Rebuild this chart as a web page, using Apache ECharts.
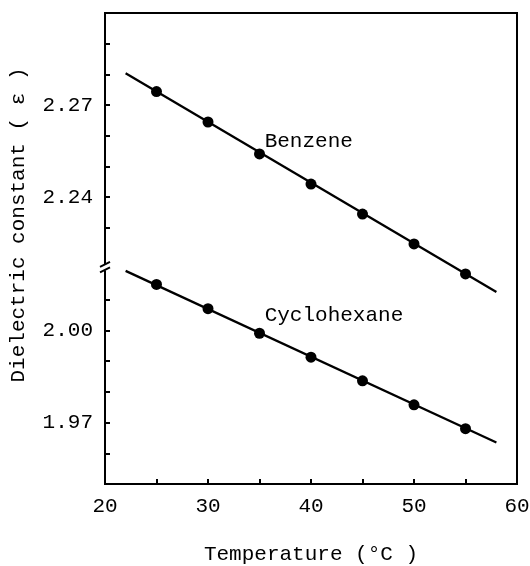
<!DOCTYPE html>
<html>
<head>
<meta charset="utf-8">
<script src="https://cdn.jsdelivr.net/npm/echarts@6/dist/echarts.min.js"></script>
<style>
  html, body { margin: 0; padding: 0; background: #fff; }
  #chart { width: 530px; height: 566px; }
</style>
</head>
<body>
<div id="chart"></div>
<script>
// data
const temps = [25, 30, 35, 40, 45, 50, 55]
const benzene = [2.2744, 2.2645, 2.2541, 2.2443, 2.2345, 2.2248, 2.2150]
const cyclohexane = [2.0150, 2.0071, 1.9991, 1.9913, 1.9836, 1.9758, 1.9680]
// fitted straight lines, drawn from 22 to 58 °C
const fitTemps = [22, 58]
const benzeneFit = [2.2804, 2.2091]
const cyclohexaneFit = [2.0194, 1.9635]

// ticks and labels
const xTicks = [25, 30, 35, 40, 45, 50, 55]
const xLabels = [20, 30, 40, 50, 60]
const upperTicks = [2.23, 2.24, 2.25, 2.26, 2.27, 2.28, 2.29]
const upperLabels = [2.24, 2.27]
const lowerTicks = [1.96, 1.97, 1.98, 1.99, 2.00, 2.01]
const lowerLabels = [1.97, 2.00]
const breakValue = 2.02

const font = 'Liberation Mono'
const fontSize = 21
const black = '#000'

const pairs = (xs, ys) => xs.map((x, i) => [x, ys[i]])

const gridBox = { left: 105, top: 13, width: 412, height: 471 }

const yCommon = {
  type: 'value',
  axisLine: { show: true, lineStyle: { color: black, width: 2 } },
  axisTick: { show: true, inside: true, length: 5, lineStyle: { color: black, width: 2 } },
  axisLabel: {
    color: black, fontFamily: font, fontSize: fontSize, margin: 12,
    formatter: (v) => v.toFixed(2),
  },
  splitLine: { show: false },
}

const labelStyle = { show: true, position: 'right', distance: 0, color: black, fontFamily: font, fontSize: fontSize }

const options = {
  animation: false,
  grid: [
    { ...gridBox, outerBoundsMode: 'none' },
    { ...gridBox, outerBoundsMode: 'none', show: true, borderColor: black, borderWidth: 2, backgroundColor: 'transparent' },
  ],
  xAxis: [
    { type: 'value', gridIndex: 0, min: 20, max: 60, show: false },
    {
      type: 'value',
      gridIndex: 1,
      min: 20,
      max: 60,
      name: 'Temperature (°C )',
      nameLocation: 'middle',
      nameGap: 60,
      nameTextStyle: { color: black, fontFamily: font, fontSize: fontSize },
      axisLine: { lineStyle: { color: black, width: 2 } },
      axisTick: { inside: true, length: 5, customValues: xTicks, lineStyle: { color: black, width: 2 } },
      axisLabel: { color: black, fontFamily: font, fontSize: fontSize, margin: 12, customValues: xLabels },
      splitLine: { show: false },
    },
  ],
  yAxis: [
    {
      ...yCommon,
      gridIndex: 0,
      min: 2.1466,
      max: 2.30,
      axisTick: { ...yCommon.axisTick, customValues: upperTicks },
      axisLabel: { ...yCommon.axisLabel, customValues: upperLabels },
    },
    {
      ...yCommon,
      gridIndex: 1,
      min: 1.95,
      max: 2.1034,
      axisTick: { ...yCommon.axisTick, customValues: lowerTicks },
      axisLabel: { ...yCommon.axisLabel, customValues: lowerLabels },
    },
  ],
  series: [
    {
      name: 'Benzene fit',
      type: 'line',
      xAxisIndex: 0,
      yAxisIndex: 0,
      data: pairs(fitTemps, benzeneFit),
      showSymbol: false,
      lineStyle: { color: black, width: 2.3 },
      markPoint: {
        symbol: 'circle',
        symbolSize: 0,
        data: [{ coord: [35.5, 2.2583] }],
        label: { ...labelStyle, formatter: 'Benzene' },
      },
    },
    {
      name: 'Benzene',
      type: 'scatter',
      xAxisIndex: 0,
      yAxisIndex: 0,
      data: pairs(temps, benzene),
      symbolSize: 11,
      itemStyle: { color: black, opacity: 1 },
    },
    {
      name: 'Cyclohexane fit',
      type: 'line',
      xAxisIndex: 1,
      yAxisIndex: 1,
      data: pairs(fitTemps, cyclohexaneFit),
      showSymbol: false,
      lineStyle: { color: black, width: 2.3 },
      markPoint: {
        symbol: 'circle',
        symbolSize: 0,
        data: [{ coord: [35.5, 2.0050] }],
        label: { ...labelStyle, formatter: 'Cyclohexane' },
      },
    },
    {
      name: 'Cyclohexane',
      type: 'scatter',
      xAxisIndex: 1,
      yAxisIndex: 1,
      data: pairs(temps, cyclohexane),
      symbolSize: 11,
      itemStyle: { color: black, opacity: 1 },
    },
  ],
}

const chart = echarts.init(document.getElementById('chart'))
chart.setOption(options)

// axis break mark and rotated y title
const p = chart.convertToPixel({ gridIndex: 1 }, [20, breakValue])
chart.setOption({
  graphic: [
    {
      type: 'polygon',
      z: 100,
      shape: { points: [[p[0] - 6, p[1] - 2], [p[0] + 6, p[1] - 8], [p[0] + 6, p[1] - 1], [p[0] - 6, p[1] + 4]] },
      style: { fill: '#fff' },
    },
    {
      type: 'line',
      z: 101,
      shape: { x1: p[0] - 5, y1: p[1] - 2.3, x2: p[0] + 5, y2: p[1] - 7.3 },
      style: { stroke: black, lineWidth: 2 },
    },
    {
      type: 'line',
      z: 101,
      shape: { x1: p[0] - 5, y1: p[1] + 3.3, x2: p[0] + 5, y2: p[1] - 1.7 },
      style: { stroke: black, lineWidth: 2 },
    },
    {
      type: 'text',
      x: 18,
      y: 225,
      rotation: Math.PI / 2,
      style: {
        text: 'Dielectric constant ( ε )',
        fill: black,
        font: fontSize + 'px "Liberation Mono"',
        align: 'center',
        verticalAlign: 'middle',
      },
    },
  ],
})
</script>
</body>
</html>
